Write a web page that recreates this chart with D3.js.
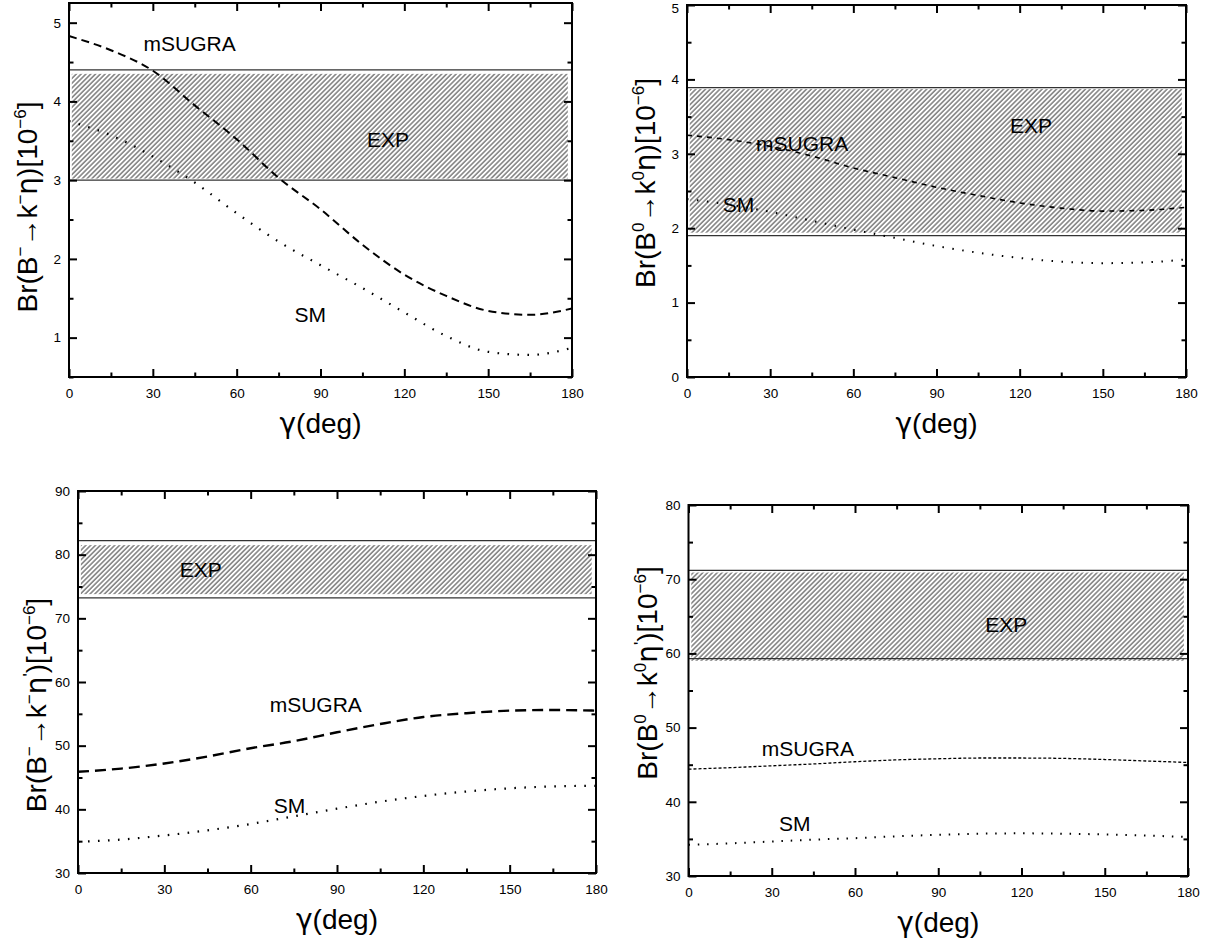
<!DOCTYPE html>
<html>
<head>
<meta charset="utf-8">
<script src="https://cdn.jsdelivr.net/npm/d3@7"></script>
<style>
  body { margin: 0; background: #fff; }
  svg text { font-family: "Liberation Sans", Arial, sans-serif; fill: #000; }
  .tick-label { font-size: 13.5px; }
  .greek { font-family: "DejaVu Sans", sans-serif; }
</style>
</head>
<body>
<div id="chart"></div>
<script>
// Br(B -> K eta) and Br(B -> K eta') vs gamma, SM and mSUGRA, with the experimental band

// gamma in degrees, the x values for every curve
var gamma = [0, 15, 30, 45, 60, 75, 90, 105, 120, 135, 150, 165, 180];

// B- -> K- eta
var kEtaMSUGRA = [4.83, 4.65, 4.39, 3.95, 3.52, 3.03, 2.63, 2.18, 1.80, 1.53, 1.34, 1.29, 1.37];
var kEtaSM     = [3.75, 3.57, 3.30, 2.97, 2.58, 2.22, 1.92, 1.63, 1.32, 1.02, 0.82, 0.78, 0.87];
var kEtaExp    = [3.0, 4.4];

// B0 -> K0 eta
var k0EtaMSUGRA = [3.25, 3.19, 3.10, 2.97, 2.81, 2.68, 2.55, 2.44, 2.34, 2.27, 2.23, 2.24, 2.28];
var k0EtaSM     = [2.39, 2.32, 2.22, 2.10, 1.98, 1.87, 1.76, 1.67, 1.60, 1.55, 1.53, 1.54, 1.58];
var k0EtaExp    = [1.9, 3.89];

// B- -> K- eta'
var kEtapMSUGRA = [45.9, 46.4, 47.2, 48.3, 49.6, 50.7, 52.1, 53.4, 54.5, 55.1, 55.5, 55.6, 55.5];
var kEtapSM     = [34.9, 35.25, 35.9, 36.7, 37.7, 38.9, 40.1, 41.2, 42.1, 42.8, 43.3, 43.6, 43.7];
var kEtapExp    = [73.2, 82.2];

// B0 -> K0 eta'
var k0EtapMSUGRA = [44.4, 44.6, 44.85, 45.1, 45.4, 45.65, 45.8, 45.9, 45.9, 45.85, 45.7, 45.5, 45.3];
var k0EtapSM     = [34.2, 34.4, 34.65, 34.9, 35.1, 35.35, 35.55, 35.7, 35.75, 35.7, 35.6, 35.45, 35.25];
var k0EtapExp    = [59.3, 71.2];

// tick labels
var xTicks = [0, 30, 60, 90, 120, 150, 180];
var xMinor = [15, 45, 75, 105, 135, 165];

var w = 1207, h = 945;

var svg = d3.select("#chart").append("svg")
    .attr("width", w)
    .attr("height", h);

// hatch pattern for the EXP band
var defs = svg.append("defs");
defs.append("pattern")
    .attr("id", "hatch")
    .attr("patternUnits", "userSpaceOnUse")
    .attr("width", 3.4)
    .attr("height", 3.4)
    .attr("patternTransform", "rotate(45)")
  .append("line")
    .attr("x1", 0.9).attr("y1", 0)
    .attr("x2", 0.9).attr("y2", 3.4)
    .attr("stroke", "#7d7d7d")
    .attr("stroke-width", 1.5);

// title pieces: [text, kind] kind n = normal, s = superscript, g = greek
var panels = [
  { left: 69, right: 572, top: 3, bottom: 377, yDomain: [0.5, 5.25],
    yTicks: [1, 2, 3, 4, 5], yMinor: [0.5, 1.5, 2.5, 3.5, 4.5],
    exp: kEtaExp, hatch: [3.02, 4.35], hatchX: [1.0, 178.5],
    msugra: kEtaMSUGRA, sm: kEtaSM,
    dash: { w: 2, d: "8,5" }, dot: { w: 2.2, d: "1.6,8.4" },
    title: [["Br(B", "n"], ["−", "s"], ["→k", "n"], ["−", "s"], ["η", "g"], [")[10", "n"], ["−6", "s"], ["]", "n"]], titleY: 207,
    labels: [["mSUGRA", 26.7, 4.645], ["EXP", 106.6, 3.42], ["SM", 80.7, 1.20]] },
  { left: 687, right: 1186, top: 5, bottom: 377, yDomain: [0, 5],
    yTicks: [0, 1, 2, 3, 4, 5], yMinor: [0.5, 1.5, 2.5, 3.5, 4.5],
    exp: k0EtaExp, hatch: [1.94, 3.87], hatchX: [1.0, 178.5],
    msugra: k0EtaMSUGRA, sm: k0EtaSM,
    dash: { w: 1.6, d: "5,5" }, dot: { w: 2, d: "1.5,8.5" },
    title: [["Br(B", "n"], ["0", "s"], ["→k", "n"], ["0", "s"], ["η", "g"], [")[10", "n"], ["−6", "s"], ["]", "n"]], titleY: 183,
    labels: [["mSUGRA", 24.9, 3.04], ["SM", 12.9, 2.22], ["EXP", 116.5, 3.28]] },
  { left: 78, right: 596, top: 491, bottom: 873, yDomain: [30, 90],
    yTicks: [30, 40, 50, 60, 70, 80, 90], yMinor: [35, 45, 55, 65, 75, 85],
    exp: kEtapExp, hatch: [73.8, 81.5], hatchX: [1.0, 178.5],
    msugra: kEtapMSUGRA, sm: kEtapSM,
    dash: { w: 2.4, d: "11,6" }, dot: { w: 2.2, d: "1.6,8.4" },
    title: [["Br(B", "n"], ["−", "s"], ["→k", "n"], ["−", "s"], ["η", "g"], ["'", "s"], [")[10", "n"], ["−6", "s"], ["]", "n"]], titleY: 705,
    labels: [["EXP", 35.4, 76.5], ["mSUGRA", 66.6, 55.3], ["SM", 68, 39.4]] },
  { left: 688.5, right: 1188, top: 505, bottom: 876, yDomain: [30, 80],
    yTicks: [30, 40, 50, 60, 70, 80], yMinor: [35, 45, 55, 65, 75],
    exp: k0EtapExp, hatch: [59.0, 70.9], hatchX: [1.0, 178.5],
    msugra: k0EtapMSUGRA, sm: k0EtapSM,
    dash: { w: 1.3, d: "3,2" }, dot: { w: 2, d: "1.5,7.8" },
    title: [["Br(B", "n"], ["0", "s"], ["→k", "n"], ["0", "s"], ["η", "g"], ["'", "s"], [")[10", "n"], ["−6", "s"], ["]", "n"]], titleY: 673,
    labels: [["EXP", 106.9, 62.84], ["mSUGRA", 26.4, 46.2], ["SM", 32.6, 36.0]] }
];

panels.forEach(function(p) {
  var x = d3.scaleLinear().domain([0, 180]).range([p.left, p.right]);
  var y = d3.scaleLinear().domain(p.yDomain).range([p.bottom, p.top]);
  var g = svg.append("g");

  // EXP band: hatch plus the two limit lines
  g.append("rect")
    .attr("x", x(p.hatchX[0]))
    .attr("y", y(p.hatch[1]))
    .attr("width", x(p.hatchX[1]) - x(p.hatchX[0]))
    .attr("height", y(p.hatch[0]) - y(p.hatch[1]))
    .attr("fill", "url(#hatch)");
  g.selectAll("line.exp")
    .data(p.exp)
    .enter().append("line")
    .attr("class", "exp")
    .attr("x1", x(0)).attr("x2", x(180))
    .attr("y1", function(d) { return y(d); })
    .attr("y2", function(d) { return y(d); })
    .attr("stroke", "#333")
    .attr("stroke-width", 1.2);

  // curves
  var line = d3.line()
    .x(function(d, i) { return x(gamma[i]); })
    .y(function(d) { return y(d); })
    .curve(d3.curveMonotoneX);

  g.append("path")
    .attr("d", line(p.msugra))
    .attr("fill", "none")
    .attr("stroke", "#000")
    .attr("stroke-width", p.dash.w)
    .attr("stroke-dasharray", p.dash.d);
  g.append("path")
    .attr("d", line(p.sm))
    .attr("fill", "none")
    .attr("stroke", "#000")
    .attr("stroke-width", p.dot.w)
    .attr("stroke-dasharray", p.dot.d);

  // text labels
  g.selectAll("text.lab")
    .data(p.labels)
    .enter().append("text")
    .attr("class", "lab")
    .attr("x", function(d) { return x(d[1]); })
    .attr("y", function(d) { return y(d[2]); })
    .style("font-size", "21px")
    .text(function(d) { return d[0]; });

  // axes with inward ticks on all four sides
  g.append("g").attr("transform", "translate(0," + p.bottom + ")")
    .call(d3.axisBottom(x).tickValues(xTicks).tickSize(-8).tickPadding(11));
  g.append("g").attr("transform", "translate(0," + p.bottom + ")")
    .call(d3.axisBottom(x).tickValues(xMinor).tickSize(-4.5).tickFormat(""));
  g.append("g").attr("transform", "translate(0," + p.top + ")")
    .call(d3.axisTop(x).tickValues(xTicks).tickSize(-8).tickFormat(""));
  g.append("g").attr("transform", "translate(0," + p.top + ")")
    .call(d3.axisTop(x).tickValues(xMinor).tickSize(-4.5).tickFormat(""));

  var yAxis = g.append("g").attr("transform", "translate(" + p.left + ",0)")
    .call(d3.axisLeft(y).tickValues(p.yTicks).tickSize(-8).tickPadding(8).tickFormat(d3.format("d")));
  g.append("g").attr("transform", "translate(" + p.left + ",0)")
    .call(d3.axisLeft(y).tickValues(p.yMinor).tickSize(-4.5).tickFormat(""));
  g.append("g").attr("transform", "translate(" + p.right + ",0)")
    .call(d3.axisRight(y).tickValues(p.yTicks).tickSize(-8).tickFormat(""));
  g.append("g").attr("transform", "translate(" + p.right + ",0)")
    .call(d3.axisRight(y).tickValues(p.yMinor).tickSize(-4.5).tickFormat(""));

  g.selectAll(".domain").remove();
  g.selectAll(".tick line").attr("stroke", "#000").attr("stroke-width", 2);
  g.selectAll(".tick text")
    .attr("class", "tick-label")
    .attr("font-family", null)
    .attr("font-size", null);

  // keep a label that sits on the page's top edge inside the page
  yAxis.selectAll(".tick text")
    .filter(function(d) { return y(d) < 6; })
    .attr("dy", "0.55em");

  // frame
  g.append("rect")
    .attr("x", p.left).attr("y", p.top)
    .attr("width", p.right - p.left)
    .attr("height", p.bottom - p.top)
    .attr("fill", "none")
    .attr("stroke", "#000")
    .attr("stroke-width", 2);

  // axis titles
  var xt = g.append("text")
    .attr("x", (p.left + p.right) / 2)
    .attr("y", p.bottom + 56)
    .attr("text-anchor", "middle")
    .style("font-size", "28px");
  xt.append("tspan").attr("class", "greek").text("γ");
  xt.append("tspan").text("(deg)");

  var t = g.append("text")
    .attr("transform", "translate(" + (p.left - 32) + "," + p.titleY + ") rotate(-90)")
    .attr("text-anchor", "middle")
    .style("font-size", "28px");
  var raised = false;
  p.title.forEach(function(piece) {
    var sup = piece[1] === "s";
    var span = t.append("tspan").text(piece[0]);
    if (sup && !raised) { span.attr("dy", -11); raised = true; }
    if (!sup && raised) { span.attr("dy", 11); raised = false; }
    if (sup) span.style("font-size", "17px");
    if (piece[1] === "g") span.attr("class", "greek");
  });
});
</script>
</body>
</html>
